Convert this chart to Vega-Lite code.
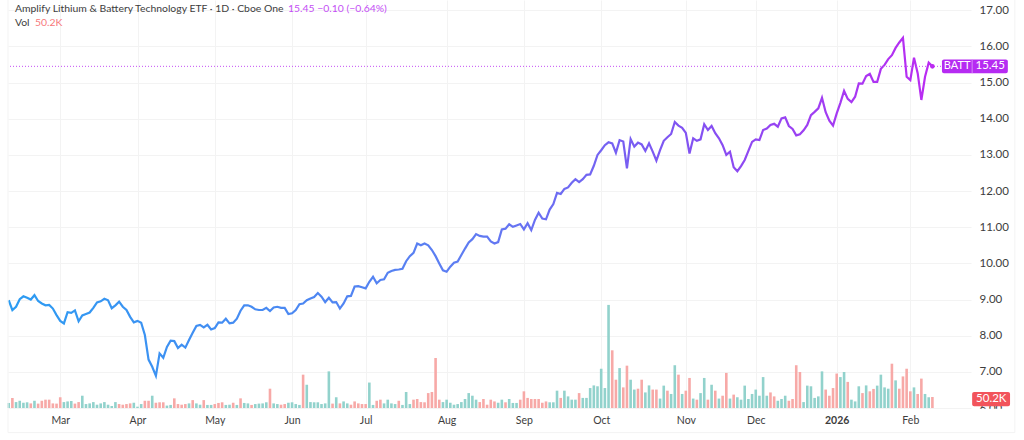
{
  "$schema": "https://vega.github.io/schema/vega-lite/v6.json",
  "width": 963,
  "height": 408,
  "autosize": "none",
  "padding": {"left": 8, "top": 0, "right": 53, "bottom": 32},
  "background": "white",
  "view": {"stroke": null},
  "config": {"font": "Lato"},
  "datasets": {
    "batt": [
      {"n":0,"close":8.98,"vol":23,"dir":"up"},{"n":1,"close":8.71,"vol":46,"dir":"down"},{"n":2,"close":8.80,"vol":27,"dir":"up"},{"n":3,"close":9.01,"vol":33,"dir":"up"},{"n":4,"close":9.09,"vol":24,"dir":"up"},{"n":5,"close":9.05,"vol":26,"dir":"up"},{"n":6,"close":9.00,"vol":21,"dir":"down"},{"n":7,"close":9.12,"vol":33,"dir":"up"},{"n":8,"close":8.96,"vol":20,"dir":"down"},{"n":9,"close":8.89,"vol":33,"dir":"down"},
      {"n":10,"close":8.84,"vol":38,"dir":"down"},{"n":11,"close":8.85,"vol":38,"dir":"down"},{"n":12,"close":8.75,"vol":21,"dir":"down"},{"n":13,"close":8.57,"vol":20,"dir":"down"},{"n":14,"close":8.41,"vol":49,"dir":"down"},{"n":15,"close":8.34,"vol":27,"dir":"up"},{"n":16,"close":8.65,"vol":30,"dir":"up"},{"n":17,"close":8.63,"vol":32,"dir":"up"},{"n":18,"close":8.70,"vol":20,"dir":"down"},{"n":19,"close":8.40,"vol":27,"dir":"down"},
      {"n":20,"close":8.56,"vol":56,"dir":"up"},{"n":21,"close":8.60,"vol":18,"dir":"up"},{"n":22,"close":8.64,"vol":21,"dir":"up"},{"n":23,"close":8.77,"vol":27,"dir":"up"},{"n":24,"close":8.92,"vol":15,"dir":"up"},{"n":25,"close":8.95,"vol":21,"dir":"up"},{"n":26,"close":9.02,"vol":27,"dir":"up"},{"n":27,"close":8.98,"vol":15,"dir":"up"},{"n":28,"close":8.76,"vol":9,"dir":"up"},{"n":29,"close":8.84,"vol":27,"dir":"up"},
      {"n":30,"close":8.94,"vol":18,"dir":"down"},{"n":31,"close":8.80,"vol":15,"dir":"down"},{"n":32,"close":8.71,"vol":18,"dir":"down"},{"n":33,"close":8.52,"vol":21,"dir":"down"},{"n":34,"close":8.37,"vol":24,"dir":"up"},{"n":35,"close":8.41,"vol":6,"dir":"up"},{"n":36,"close":8.36,"vol":18,"dir":"up"},{"n":37,"close":8.02,"vol":33,"dir":"down"},{"n":38,"close":7.34,"vol":33,"dir":"down"},{"n":39,"close":7.14,"vol":56,"dir":"up"},
      {"n":40,"close":6.89,"vol":24,"dir":"down"},{"n":41,"close":7.51,"vol":26,"dir":"down"},{"n":42,"close":7.39,"vol":26,"dir":"down"},{"n":43,"close":7.69,"vol":11,"dir":"up"},{"n":44,"close":7.86,"vol":14,"dir":"up"},{"n":45,"close":7.85,"vol":44,"dir":"down"},{"n":46,"close":7.66,"vol":18,"dir":"down"},{"n":47,"close":7.75,"vol":15,"dir":"down"},{"n":48,"close":7.67,"vol":18,"dir":"down"},{"n":49,"close":7.88,"vol":21,"dir":"up"},
      {"n":50,"close":8.08,"vol":36,"dir":"down"},{"n":51,"close":8.27,"vol":21,"dir":"up"},{"n":52,"close":8.30,"vol":15,"dir":"up"},{"n":53,"close":8.23,"vol":36,"dir":"down"},{"n":54,"close":8.30,"vol":14,"dir":"up"},{"n":55,"close":8.17,"vol":14,"dir":"up"},{"n":56,"close":8.21,"vol":18,"dir":"down"},{"n":57,"close":8.37,"vol":23,"dir":"down"},{"n":58,"close":8.36,"vol":26,"dir":"down"},{"n":59,"close":8.47,"vol":14,"dir":"up"},
      {"n":60,"close":8.34,"vol":15,"dir":"up"},{"n":61,"close":8.36,"vol":24,"dir":"down"},{"n":62,"close":8.47,"vol":14,"dir":"up"},{"n":63,"close":8.69,"vol":44,"dir":"down"},{"n":64,"close":8.84,"vol":23,"dir":"up"},{"n":65,"close":8.84,"vol":21,"dir":"up"},{"n":66,"close":8.80,"vol":14,"dir":"down"},{"n":67,"close":8.73,"vol":18,"dir":"up"},{"n":68,"close":8.71,"vol":20,"dir":"up"},{"n":69,"close":8.71,"vol":21,"dir":"up"},
      {"n":70,"close":8.77,"vol":26,"dir":"up"},{"n":71,"close":8.68,"vol":88,"dir":"down"},{"n":72,"close":8.78,"vol":21,"dir":"up"},{"n":73,"close":8.80,"vol":18,"dir":"up"},{"n":74,"close":8.77,"vol":15,"dir":"down"},{"n":75,"close":8.77,"vol":18,"dir":"down"},{"n":76,"close":8.60,"vol":24,"dir":"up"},{"n":77,"close":8.62,"vol":26,"dir":"up"},{"n":78,"close":8.71,"vol":18,"dir":"up"},{"n":79,"close":8.87,"vol":14,"dir":"up"},
      {"n":80,"close":8.89,"vol":152,"dir":"down"},{"n":81,"close":8.98,"vol":106,"dir":"up"},{"n":82,"close":9.03,"vol":27,"dir":"up"},{"n":83,"close":9.07,"vol":26,"dir":"up"},{"n":84,"close":9.18,"vol":26,"dir":"up"},{"n":85,"close":9.08,"vol":18,"dir":"up"},{"n":86,"close":8.93,"vol":21,"dir":"up"},{"n":87,"close":9.05,"vol":167,"dir":"up"},{"n":88,"close":8.92,"vol":20,"dir":"down"},{"n":89,"close":8.93,"vol":49,"dir":"up"},
      {"n":90,"close":8.75,"vol":21,"dir":"down"},{"n":91,"close":8.89,"vol":30,"dir":"up"},{"n":92,"close":9.09,"vol":21,"dir":"up"},{"n":93,"close":9.10,"vol":15,"dir":"down"},{"n":94,"close":9.36,"vol":30,"dir":"down"},{"n":95,"close":9.37,"vol":21,"dir":"down"},{"n":96,"close":9.34,"vol":18,"dir":"down"},{"n":97,"close":9.31,"vol":18,"dir":"down"},{"n":98,"close":9.49,"vol":116,"dir":"up"},{"n":99,"close":9.63,"vol":14,"dir":"up"},
      {"n":100,"close":9.45,"vol":33,"dir":"down"},{"n":101,"close":9.54,"vol":38,"dir":"down"},{"n":102,"close":9.56,"vol":21,"dir":"up"},{"n":103,"close":9.74,"vol":38,"dir":"up"},{"n":104,"close":9.79,"vol":21,"dir":"up"},{"n":105,"close":9.82,"vol":18,"dir":"up"},{"n":106,"close":9.83,"vol":33,"dir":"down"},{"n":107,"close":9.85,"vol":14,"dir":"up"},{"n":108,"close":10.06,"vol":73,"dir":"up"},{"n":109,"close":10.20,"vol":18,"dir":"up"},
      {"n":110,"close":10.29,"vol":38,"dir":"down"},{"n":111,"close":10.55,"vol":41,"dir":"down"},{"n":112,"close":10.50,"vol":27,"dir":"down"},{"n":113,"close":10.55,"vol":26,"dir":"down"},{"n":114,"close":10.50,"vol":68,"dir":"down"},{"n":115,"close":10.37,"vol":73,"dir":"down"},{"n":116,"close":10.20,"vol":228,"dir":"down"},{"n":117,"close":10.00,"vol":38,"dir":"down"},{"n":118,"close":9.81,"vol":27,"dir":"up"},{"n":119,"close":9.77,"vol":38,"dir":"up"},
      {"n":120,"close":9.91,"vol":24,"dir":"up"},{"n":121,"close":10.02,"vol":15,"dir":"up"},{"n":122,"close":10.05,"vol":18,"dir":"up"},{"n":123,"close":10.23,"vol":27,"dir":"up"},{"n":124,"close":10.41,"vol":41,"dir":"up"},{"n":125,"close":10.58,"vol":68,"dir":"up"},{"n":126,"close":10.67,"vol":56,"dir":"up"},{"n":127,"close":10.81,"vol":38,"dir":"up"},{"n":128,"close":10.76,"vol":27,"dir":"down"},{"n":129,"close":10.74,"vol":41,"dir":"down"},
      {"n":130,"close":10.74,"vol":15,"dir":"down"},{"n":131,"close":10.61,"vol":38,"dir":"down"},{"n":132,"close":10.55,"vol":30,"dir":"down"},{"n":133,"close":10.59,"vol":24,"dir":"up"},{"n":134,"close":10.94,"vol":38,"dir":"up"},{"n":135,"close":10.96,"vol":26,"dir":"down"},{"n":136,"close":11.08,"vol":41,"dir":"up"},{"n":137,"close":11.01,"vol":23,"dir":"up"},{"n":138,"close":11.05,"vol":23,"dir":"up"},{"n":139,"close":11.09,"vol":38,"dir":"down"},
      {"n":140,"close":10.94,"vol":76,"dir":"down"},{"n":141,"close":11.11,"vol":46,"dir":"down"},{"n":142,"close":10.92,"vol":41,"dir":"down"},{"n":143,"close":11.20,"vol":41,"dir":"down"},{"n":144,"close":11.40,"vol":41,"dir":"down"},{"n":145,"close":11.24,"vol":24,"dir":"down"},{"n":146,"close":11.22,"vol":30,"dir":"down"},{"n":147,"close":11.49,"vol":26,"dir":"up"},{"n":148,"close":11.64,"vol":26,"dir":"up"},{"n":149,"close":11.95,"vol":79,"dir":"up"},
      {"n":150,"close":11.92,"vol":46,"dir":"down"},{"n":151,"close":12.06,"vol":79,"dir":"up"},{"n":152,"close":12.10,"vol":53,"dir":"up"},{"n":153,"close":12.23,"vol":38,"dir":"up"},{"n":154,"close":12.33,"vol":38,"dir":"up"},{"n":155,"close":12.25,"vol":68,"dir":"down"},{"n":156,"close":12.33,"vol":46,"dir":"up"},{"n":157,"close":12.45,"vol":46,"dir":"up"},{"n":158,"close":12.46,"vol":91,"dir":"up"},{"n":159,"close":12.70,"vol":103,"dir":"up"},
      {"n":160,"close":13.00,"vol":99,"dir":"up"},{"n":161,"close":13.13,"vol":179,"dir":"up"},{"n":162,"close":13.27,"vol":91,"dir":"up"},{"n":163,"close":13.35,"vol":470,"dir":"up"},{"n":164,"close":13.32,"vol":263,"dir":"down"},{"n":165,"close":13.06,"vol":129,"dir":"down"},{"n":166,"close":13.41,"vol":182,"dir":"up"},{"n":167,"close":13.37,"vol":94,"dir":"down"},{"n":168,"close":12.63,"vol":193,"dir":"down"},{"n":169,"close":13.44,"vol":129,"dir":"up"},
      {"n":170,"close":13.23,"vol":84,"dir":"up"},{"n":171,"close":13.34,"vol":88,"dir":"down"},{"n":172,"close":13.29,"vol":129,"dir":"down"},{"n":173,"close":13.11,"vol":71,"dir":"up"},{"n":174,"close":13.32,"vol":103,"dir":"up"},{"n":175,"close":13.09,"vol":84,"dir":"down"},{"n":176,"close":12.84,"vol":84,"dir":"down"},{"n":177,"close":13.13,"vol":43,"dir":"up"},{"n":178,"close":13.39,"vol":102,"dir":"up"},{"n":179,"close":13.49,"vol":79,"dir":"down"},
      {"n":180,"close":13.58,"vol":64,"dir":"up"},{"n":181,"close":13.91,"vol":195,"dir":"up"},{"n":182,"close":13.81,"vol":152,"dir":"down"},{"n":183,"close":13.75,"vol":64,"dir":"up"},{"n":184,"close":13.61,"vol":79,"dir":"down"},{"n":185,"close":13.04,"vol":137,"dir":"down"},{"n":186,"close":13.46,"vol":43,"dir":"up"},{"n":187,"close":13.39,"vol":38,"dir":"down"},{"n":188,"close":13.43,"vol":68,"dir":"up"},{"n":189,"close":13.85,"vol":137,"dir":"up"},
      {"n":190,"close":13.69,"vol":38,"dir":"down"},{"n":191,"close":13.80,"vol":106,"dir":"up"},{"n":192,"close":13.60,"vol":79,"dir":"down"},{"n":193,"close":13.46,"vol":43,"dir":"up"},{"n":194,"close":13.27,"vol":56,"dir":"down"},{"n":195,"close":13.00,"vol":160,"dir":"down"},{"n":196,"close":13.09,"vol":43,"dir":"up"},{"n":197,"close":12.66,"vol":61,"dir":"down"},{"n":198,"close":12.55,"vol":49,"dir":"up"},{"n":199,"close":12.69,"vol":38,"dir":"up"},
      {"n":200,"close":12.86,"vol":102,"dir":"up"},{"n":201,"close":13.11,"vol":41,"dir":"up"},{"n":202,"close":13.36,"vol":64,"dir":"up"},{"n":203,"close":13.43,"vol":84,"dir":"up"},{"n":204,"close":13.41,"vol":56,"dir":"up"},{"n":205,"close":13.69,"vol":141,"dir":"up"},{"n":206,"close":13.73,"vol":56,"dir":"up"},{"n":207,"close":13.83,"vol":71,"dir":"down"},{"n":208,"close":13.86,"vol":53,"dir":"down"},{"n":209,"close":13.78,"vol":33,"dir":"up"},
      {"n":210,"close":14.01,"vol":41,"dir":"up"},{"n":211,"close":14.04,"vol":56,"dir":"up"},{"n":212,"close":13.80,"vol":33,"dir":"down"},{"n":213,"close":13.72,"vol":41,"dir":"down"},{"n":214,"close":13.54,"vol":195,"dir":"down"},{"n":215,"close":13.57,"vol":164,"dir":"down"},{"n":216,"close":13.68,"vol":27,"dir":"up"},{"n":217,"close":13.83,"vol":102,"dir":"up"},{"n":218,"close":14.10,"vol":99,"dir":"up"},{"n":219,"close":14.19,"vol":46,"dir":"up"},
      {"n":220,"close":14.29,"vol":53,"dir":"up"},{"n":221,"close":14.58,"vol":167,"dir":"up"},{"n":222,"close":14.18,"vol":84,"dir":"down"},{"n":223,"close":13.95,"vol":56,"dir":"down"},{"n":224,"close":13.81,"vol":91,"dir":"down"},{"n":225,"close":14.15,"vol":157,"dir":"down"},{"n":226,"close":14.44,"vol":141,"dir":"up"},{"n":227,"close":14.77,"vol":164,"dir":"up"},{"n":228,"close":14.55,"vol":119,"dir":"down"},{"n":229,"close":14.46,"vol":38,"dir":"up"},
      {"n":230,"close":14.61,"vol":30,"dir":"up"},{"n":231,"close":14.98,"vol":99,"dir":"up"},{"n":232,"close":14.97,"vol":68,"dir":"down"},{"n":233,"close":15.18,"vol":103,"dir":"up"},{"n":234,"close":15.24,"vol":76,"dir":"down"},{"n":235,"close":15.02,"vol":87,"dir":"down"},{"n":236,"close":15.02,"vol":102,"dir":"up"},{"n":237,"close":15.38,"vol":152,"dir":"up"},{"n":238,"close":15.49,"vol":94,"dir":"up"},{"n":239,"close":15.65,"vol":88,"dir":"up"},
      {"n":240,"close":15.76,"vol":202,"dir":"down"},{"n":241,"close":15.96,"vol":126,"dir":"up"},{"n":242,"close":16.11,"vol":88,"dir":"down"},{"n":243,"close":16.24,"vol":144,"dir":"down"},{"n":244,"close":15.16,"vol":179,"dir":"down"},{"n":245,"close":15.07,"vol":76,"dir":"down"},{"n":246,"close":15.69,"vol":94,"dir":"up"},{"n":247,"close":15.26,"vol":64,"dir":"down"},{"n":248,"close":14.52,"vol":134,"dir":"down"},{"n":249,"close":15.16,"vol":64,"dir":"up"},
      {"n":250,"close":15.55,"vol":49,"dir":"up"},{"n":251,"close":15.45,"vol":50.2,"dir":"down"}
    ]
  },
  "data": {"name": "batt"},
  "resolve": {"scale": {"y": "independent"}},
  "layer": [
    {
      "mark": {"type": "bar", "size": 2.6},
      "encoding": {
        "x": {
          "field": "n",
          "type": "quantitative",
          "scale": {"domain": [-0.19, 261.49], "nice": false, "zero": false, "padding": 0},
          "axis": {
            "title": null,
            "values": [14, 35, 56, 77, 97, 119, 140, 161, 184, 203, 225, 245],
            "labelExpr": "{14:'Mar',35:'Apr',56:'May',77:'Jun',97:'Jul',119:'Aug',140:'Sep',161:'Oct',184:'Nov',203:'Dec',225:'2026',245:'Feb'}[datum.value]",
            "grid": true,
            "gridColor": "#f3f3f3",
            "domain": false,
            "ticks": false,
            "labelPadding": 7,
            "labelFontSize": 10.5,
            "labelColor": "#3d3d3d",
            "labelOverlap": false,
            "labelFontWeight": {"condition": {"test": "datum.value == 225", "value": "bold"}, "value": "normal"}
          }
        },
        "y": {
          "field": "vol",
          "type": "quantitative",
          "title": "Vol (K)",
          "scale": {"domain": [0, 1860], "nice": false},
          "axis": null
        },
        "color": {
          "field": "dir",
          "type": "nominal",
          "scale": {"domain": ["up", "down"], "range": ["#92d2cc", "#f7a9a7"]},
          "legend": null
        }
      }
    },
    {
      "layer": [
        {
          "mark": {
            "type": "line",
            "strokeWidth": 2.2,
            "color": {
              "gradient": "linear",
              "x1": 0,
              "y1": 0,
              "x2": 1,
              "y2": 0,
              "stops": [
                {"offset": 0, "color": "#2c9cf2"},
                {"offset": 0.5, "color": "#5f7cf2"},
                {"offset": 0.75, "color": "#8450f2"},
                {"offset": 1, "color": "#bb2bf2"}
              ]
            }
          },
          "encoding": {
            "x": {"field": "n", "type": "quantitative"},
            "y": {
              "field": "close",
              "type": "quantitative",
              "title": null,
              "scale": {"domain": [6, 17.285], "nice": false, "zero": false},
              "axis": {
                "orient": "right",
                "values": [6, 7, 8, 9, 10, 11, 12, 13, 14, 15, 16, 17],
                "tickCount": 12,
                "format": ".2f",
                "grid": true,
                "gridColor": "#f3f3f3",
                "domain": false,
                "ticks": false,
                "labelPadding": 8,
                "labelFontSize": 11.5,
                "labelColor": "#3d3d3d",
                "labelOverlap": false
              }
            }
          }
        },
        {
          "mark": {"type": "rule", "color": "#f3f3f3", "strokeWidth": 1},
          "data": {"values": [{"edge": "frame"}]},
          "encoding": {
            "x": {"datum": -0.19},
            "y": {"datum": 5.32},
            "y2": {"datum": 17.285}
          }
        },
        {
          "mark": {"type": "rule", "color": "#f3f3f3", "strokeWidth": 1},
          "data": {"values": [{"edge": "frame"}]},
          "encoding": {
            "x": {"datum": -0.19},
            "x2": {"datum": 273.4},
            "y": {"datum": 5.32}
          }
        },
        {
          "mark": {"type": "rule", "color": "#f3f3f3", "strokeWidth": 1},
          "data": {"values": [{"edge": "frame"}]},
          "encoding": {
            "x": {"datum": 273.4},
            "y": {"datum": 5.32},
            "y2": {"datum": 17.285}
          }
        },
        {
          "mark": {"type": "rule", "color": "#c44df5", "strokeWidth": 1, "strokeDash": [1, 2]},
          "data": {"values": [{"last": 15.45}]},
          "encoding": {"y": {"field": "last", "type": "quantitative"}}
        },
        {
          "transform": [{"filter": "datum.n == 251"}],
          "mark": {"type": "point", "filled": true, "size": 22, "opacity": 1, "color": "#bb2bf2"},
          "encoding": {
            "x": {"field": "n", "type": "quantitative"},
            "y": {"field": "close", "type": "quantitative"}
          }
        },
        {
          "mark": {"type": "rect", "color": "#b62bf2", "cornerRadius": 2},
          "data": {"values": [{"box": "BATT"}]},
          "encoding": {
            "x": {"datum": 253.6},
            "x2": {"datum": 271.5},
            "y": {"datum": 15.26},
            "y2": {"datum": 15.64}
          }
        },
        {
          "mark": {"type": "rule", "color": "#d58bf7", "strokeWidth": 1},
          "data": {"values": [{"box": "divider"}]},
          "encoding": {
            "x": {"datum": 261.8},
            "y": {"datum": 15.26},
            "y2": {"datum": 15.64}
          }
        },
        {
          "mark": {"type": "text", "color": "white", "align": "center", "baseline": "middle", "fontSize": 11},
          "data": {"values": [{"label": "BATT"}]},
          "encoding": {
            "x": {"datum": 257.7},
            "y": {"datum": 15.45},
            "text": {"field": "label"}
          }
        },
        {
          "mark": {"type": "text", "color": "white", "align": "center", "baseline": "middle", "fontSize": 11.5},
          "data": {"values": [{"label": "15.45"}]},
          "encoding": {
            "x": {"datum": 266.7},
            "y": {"datum": 15.45},
            "text": {"field": "label"}
          }
        },
        {
          "mark": {"type": "rect", "color": "white"},
          "data": {"values": [{"box": "mask"}]},
          "encoding": {
            "x": {"datum": 261.8},
            "x2": {"datum": 273},
            "y": {"datum": 5.65},
            "y2": {"datum": 5.98}
          }
        },
        {
          "mark": {"type": "rect", "color": "#f2545b", "cornerRadius": 2},
          "data": {"values": [{"box": "vol"}]},
          "encoding": {
            "x": {"datum": 261.8},
            "x2": {"datum": 272.1},
            "y": {"datum": 6.05},
            "y2": {"datum": 6.44}
          }
        },
        {
          "mark": {"type": "text", "color": "white", "align": "center", "baseline": "middle", "fontSize": 11.5},
          "data": {"values": [{"label": "50.2K"}]},
          "encoding": {
            "x": {"datum": 267},
            "y": {"datum": 6.24},
            "text": {"field": "label"}
          }
        },
        {
          "mark": {"type": "text", "color": "#3d3d3d", "align": "left", "baseline": "middle", "fontSize": 10.4},
          "data": {"values": [{"label": "Amplify Lithium & Battery Technology ETF · 1D · Cboe One"}]},
          "encoding": {
            "x": {"datum": 1.7},
            "y": {"datum": 17.04},
            "text": {"field": "label"}
          }
        },
        {
          "mark": {"type": "text", "color": "#c44df5", "align": "left", "baseline": "middle", "fontSize": 10.4},
          "data": {"values": [{"label": "15.45  −0.10 (−0.64%)"}]},
          "encoding": {
            "x": {"datum": 75.9},
            "y": {"datum": 17.04},
            "text": {"field": "label"}
          }
        },
        {
          "mark": {"type": "text", "color": "#3d3d3d", "align": "left", "baseline": "middle", "fontSize": 10.4},
          "data": {"values": [{"label": "Vol"}]},
          "encoding": {
            "x": {"datum": 1.7},
            "y": {"datum": 16.66},
            "text": {"field": "label"}
          }
        },
        {
          "mark": {"type": "text", "color": "#f7777a", "align": "left", "baseline": "middle", "fontSize": 10.4},
          "data": {"values": [{"label": "50.2K"}]},
          "encoding": {
            "x": {"datum": 7.15},
            "y": {"datum": 16.66},
            "text": {"field": "label"}
          }
        }
      ]
    }
  ]
}
